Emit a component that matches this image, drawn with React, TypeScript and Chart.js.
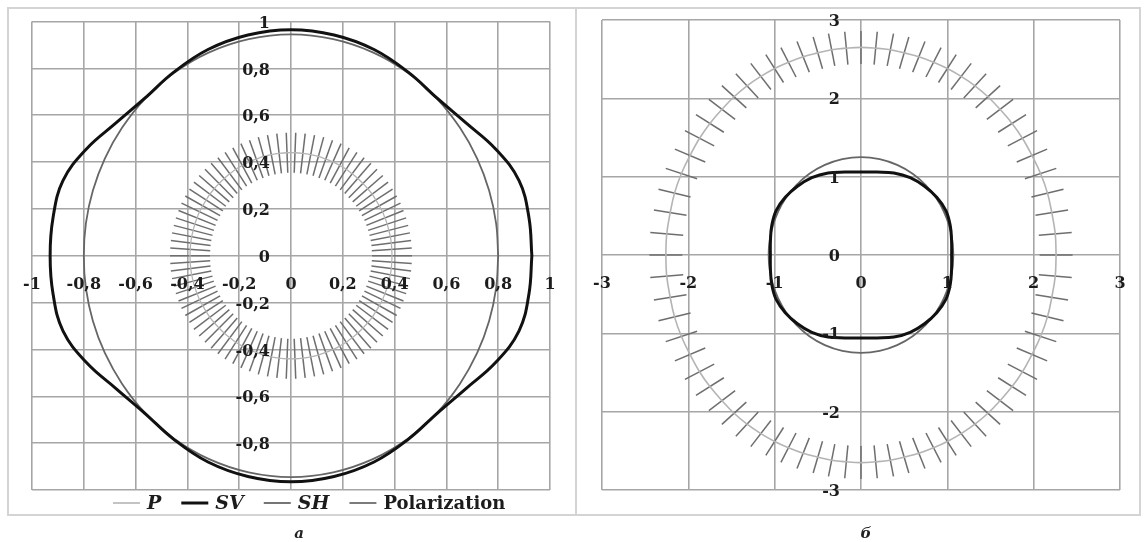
import React, { useEffect, useRef } from "react";
import { Chart, registerables } from "chart.js";
Chart.register(...registerables);

// ---------- Panel а (left) ----------
const L_X_TICKS = [-1, -0.8, -0.6, -0.4, -0.2, 0, 0.2, 0.4, 0.6, 0.8, 1];
const L_X_LABELS = ["-1", "-0,8", "-0,6", "-0,4", "-0,2", "0", "0,2", "0,4", "0,6", "0,8", "1"];
const L_Y_TICKS = [1, 0.8, 0.6, 0.4, 0.2, 0, -0.2, -0.4, -0.6, -0.8];
const L_Y_LABELS = ["1", "0,8", "0,6", "0,4", "0,2", "0", "-0,2", "-0,4", "-0,6", "-0,8"];

// polar angles (deg) of the curve samples
const CURVE_ANGLES = [0, 10, 20, 30, 40, 50, 60, 70, 80, 90, 100, 110, 120, 130, 140, 150, 160, 170,
  180, 190, 200, 210, 220, 230, 240, 250, 260, 270, 280, 290, 300, 310, 320, 330, 340, 350];

const L_SV_R = [0.930, 0.933, 0.937, 0.912, 0.882, 0.878, 0.905, 0.937, 0.957, 0.965,
  0.957, 0.937, 0.905, 0.878, 0.882, 0.912, 0.937, 0.933,
  0.930, 0.933, 0.937, 0.912, 0.882, 0.878, 0.905, 0.937, 0.957, 0.965,
  0.957, 0.937, 0.905, 0.878, 0.882, 0.912, 0.937, 0.933];

const L_SH_R = [0.800, 0.804, 0.814, 0.830, 0.851, 0.876, 0.902, 0.924, 0.939, 0.945,
  0.939, 0.924, 0.902, 0.876, 0.851, 0.830, 0.814, 0.804,
  0.800, 0.804, 0.814, 0.830, 0.851, 0.876, 0.902, 0.924, 0.939, 0.945,
  0.939, 0.924, 0.902, 0.876, 0.851, 0.830, 0.814, 0.804];

// P curve samples = polarization tick positions (polar angle deg, radius)
const L_P_ANGLES = [0, 4, 8, 12, 16, 20, 24, 28, 32, 36, 40, 44, 48, 52, 56, 60, 64, 68, 72, 76, 80, 84, 88,
  92, 96, 100, 104, 108, 112, 116, 120, 124, 128, 132, 136, 140, 144, 148, 152, 156, 160, 164, 168, 172, 176,
  180, 184, 188, 192, 196, 200, 204, 208, 212, 216, 220, 224, 228, 232, 236, 240, 244, 248, 252, 256, 260, 264, 268,
  272, 276, 280, 284, 288, 292, 296, 300, 304, 308, 312, 316, 320, 324, 328, 332, 336, 340, 344, 348, 352, 356];
const L_P_R = [0.390, 0.390, 0.391, 0.392, 0.393, 0.395, 0.397, 0.400, 0.402, 0.405, 0.409, 0.412, 0.415, 0.419, 0.422, 0.426, 0.429, 0.432, 0.434, 0.437, 0.438, 0.439, 0.440,
  0.440, 0.439, 0.438, 0.437, 0.434, 0.432, 0.429, 0.426, 0.422, 0.419, 0.415, 0.412, 0.409, 0.405, 0.402, 0.400, 0.397, 0.395, 0.393, 0.392, 0.391, 0.390,
  0.390, 0.390, 0.391, 0.392, 0.393, 0.395, 0.397, 0.400, 0.402, 0.405, 0.409, 0.412, 0.415, 0.419, 0.422, 0.426, 0.429, 0.432, 0.434, 0.437, 0.438, 0.439, 0.440,
  0.440, 0.439, 0.438, 0.437, 0.434, 0.432, 0.429, 0.426, 0.422, 0.419, 0.415, 0.412, 0.409, 0.405, 0.402, 0.400, 0.397, 0.395, 0.393, 0.392, 0.391, 0.390];
// polarization direction (deg) at each tick: radial
const L_POL_DIR = L_P_ANGLES;

// ---------- Panel б (right) ----------
const R_X_TICKS = [-3, -2, -1, 0, 1, 2, 3];
const R_X_LABELS = ["-3", "-2", "-1", "0", "1", "2", "3"];
const R_Y_TICKS = [3, 2, 1, 0, -1, -2, -3];
const R_Y_LABELS = ["3", "2", "1", "0", "-1", "-2", "-3"];

const R_SV_R = [1.050, 1.065, 1.100, 1.135, 1.145, 1.145, 1.140, 1.115, 1.075, 1.060,
  1.075, 1.115, 1.140, 1.145, 1.145, 1.135, 1.100, 1.065,
  1.050, 1.065, 1.100, 1.135, 1.145, 1.145, 1.140, 1.115, 1.075, 1.060,
  1.075, 1.115, 1.140, 1.145, 1.145, 1.135, 1.100, 1.065];

const R_SH_R = [1.070, 1.074, 1.087, 1.108, 1.135, 1.165, 1.197, 1.224, 1.243, 1.250,
  1.243, 1.224, 1.197, 1.165, 1.135, 1.108, 1.087, 1.074,
  1.070, 1.074, 1.087, 1.108, 1.135, 1.165, 1.197, 1.224, 1.243, 1.250,
  1.243, 1.224, 1.197, 1.165, 1.135, 1.108, 1.087, 1.074];

const R_P_X = [2.26, 2.25, 2.21, 2.16, 2.08, 1.98, 1.87, 1.75, 1.61, 1.47, 1.32, 1.16, 1.00, 0.84, 0.67, 0.50, 0.34, 0.17,
  0, -0.17, -0.34, -0.50, -0.67, -0.84, -1.00, -1.16, -1.32, -1.47, -1.61, -1.75, -1.87, -1.98, -2.08, -2.16, -2.21, -2.25,
  -2.26, -2.25, -2.21, -2.16, -2.08, -1.98, -1.87, -1.75, -1.61, -1.47, -1.32, -1.16, -1.00, -0.84, -0.67, -0.50, -0.34, -0.17,
  0, 0.17, 0.34, 0.50, 0.67, 0.84, 1.00, 1.16, 1.32, 1.47, 1.61, 1.75, 1.87, 1.98, 2.08, 2.16, 2.21, 2.25];
const R_P_Y = [0, 0.27, 0.54, 0.79, 1.04, 1.27, 1.49, 1.68, 1.86, 2.02, 2.16, 2.28, 2.38, 2.46, 2.53, 2.58, 2.62, 2.64,
  2.65, 2.64, 2.62, 2.58, 2.53, 2.46, 2.38, 2.28, 2.16, 2.02, 1.86, 1.68, 1.49, 1.27, 1.04, 0.79, 0.54, 0.27,
  0, -0.27, -0.54, -0.79, -1.04, -1.27, -1.49, -1.68, -1.86, -2.02, -2.16, -2.28, -2.38, -2.46, -2.53, -2.58, -2.62, -2.64,
  -2.65, -2.64, -2.62, -2.58, -2.53, -2.46, -2.38, -2.28, -2.16, -2.02, -1.86, -1.68, -1.49, -1.27, -1.04, -0.79, -0.54, -0.27];
// polarization direction (deg) at each tick
const R_POL_DIR = [0, 5, 10, 15, 20, 25, 30, 35, 40, 45, 50, 55, 60, 65, 70, 75, 80, 85,
  90, 95, 100, 105, 110, 115, 120, 125, 130, 135, 140, 145, 150, 155, 160, 165, 170, 175,
  180, 185, 190, 195, 200, 205, 210, 215, 220, 225, 230, 235, 240, 245, 250, 255, 260, 265,
  270, 275, 280, 285, 290, 295, 300, 305, 310, 315, 320, 325, 330, 335, 340, 345, 350, 355];

const SERIES = ["P", "SV", "SH", "Polarization"];
const SERIES_ITALIC = [true, true, true, false];

// ---------- helpers ----------
type Pt = { x: number; y: number };
function polar(angles: number[], radii: number[]): Pt[] {
  return angles.map((a, i) => ({
    x: radii[i] * Math.cos((a * Math.PI) / 180),
    y: radii[i] * Math.sin((a * Math.PI) / 180),
  }));
}
function xy(xs: number[], ys: number[]): Pt[] {
  return xs.map((x, i) => ({ x, y: ys[i] }));
}
function closed(p: Pt[]): Pt[] {
  return [...p, { ...p[0] }];
}

const C_P = "#b4b4b4";
const C_SV = "#111111";
const C_SH = "#666666";
const C_POL = "#6e6e6e";
const TICK_FONT = "bold 16px 'DejaVu Serif'";

function lineDs(label: string, data: Pt[], color: string, width: number, order: number) {
  return {
    label,
    data,
    showLine: true,
    borderColor: color,
    backgroundColor: color,
    borderWidth: width,
    pointRadius: 0,
    tension: 0.4,
    fill: false,
    order,
  };
}

function polDs(data: Pt[], dirs: number[], half: number) {
  return {
    label: "Polarization",
    data,
    showLine: false,
    pointStyle: "line",
    pointRadius: half,
    pointBorderWidth: 1.5,
    pointBorderColor: C_POL,
    pointBackgroundColor: C_POL,
    borderColor: C_POL,
    borderWidth: 1.5,
    order: 3,
    pointRotation: (ctx: any) => {
      const ch = ctx.chart;
      const sx = ch.scales.x;
      const sy = ch.scales.y;
      if (!sx || !sy) return 0;
      const a = (dirs[ctx.dataIndex] * Math.PI) / 180;
      const dx = sx.getPixelForValue(Math.cos(a)) - sx.getPixelForValue(0);
      const dy = sy.getPixelForValue(Math.sin(a)) - sy.getPixelForValue(0);
      return (Math.atan2(dy, dx) * 180) / Math.PI;
    },
  };
}

function makeLabelsPlugin(xt: number[], xl: string[], yt: number[], yl: string[], legend: boolean) {
  return {
    id: "customLabels",
    afterDraw(chart: any) {
      const ctx = chart.ctx;
      const sx = chart.scales.x;
      const sy = chart.scales.y;
      ctx.save();
      ctx.fillStyle = "#1c1c1c";
      ctx.font = TICK_FONT;
      ctx.textBaseline = "middle";
      ctx.textAlign = "center";
      const y0 = sy.getPixelForValue(0);
      xt.forEach((v, i) => ctx.fillText(xl[i], sx.getPixelForValue(v), y0 + 29));
      ctx.textAlign = "right";
      const x0 = sx.getPixelForValue(0);
      yt.forEach((v, i) => ctx.fillText(yl[i], x0 - 21, sy.getPixelForValue(v) + 2));
      if (legend) {
        const ly = 503;
        let x = 113;
        chart.data.datasets.forEach((ds: any) => {
          const col = ds.borderColor;
          const w = ds.label === "SV" ? 3 : ds.label === "P" ? 1.6 : 1.8;
          ctx.strokeStyle = col;
          ctx.lineWidth = w;
          ctx.beginPath();
          ctx.moveTo(x, ly);
          ctx.lineTo(x + 27, ly);
          ctx.stroke();
          x += 27 + 7;
          ctx.font = SERIES_ITALIC[SERIES.indexOf(ds.label)]
            ? "italic bold 19px 'DejaVu Serif'"
            : "bold 18px 'DejaVu Serif'";
          ctx.textAlign = "left";
          ctx.fillStyle = "#1c1c1c";
          ctx.fillText(ds.label, x, ly + 1);
          x += ctx.measureText(ds.label).width + 20;
        });
      }
      ctx.restore();
    },
  };
}

function Panel(props: {
  width: number;
  left: number;
  range: number;
  step: number;
  padding: any;
  datasets: any[];
  xt: number[];
  xl: string[];
  yt: number[];
  yl: string[];
  legend: boolean;
}) {
  const ref = useRef<HTMLCanvasElement | null>(null);
  useEffect(() => {
    if (!ref.current) return;
    const grid = { color: "#a6a6a6", lineWidth: 1.6, drawTicks: false };
    const chart = new Chart(ref.current, {
      type: "scatter",
      data: { datasets: props.datasets },
      options: {
        animation: false,
        responsive: false,
        devicePixelRatio: 1,
        events: [],
        layout: { padding: props.padding },
        plugins: { legend: { display: false }, tooltip: { enabled: false } },
        scales: {
          x: {
            type: "linear",
            min: -props.range,
            max: props.range,
            ticks: { display: false, stepSize: props.step },
            grid,
            border: { display: false },
          },
          y: {
            type: "linear",
            min: -props.range,
            max: props.range,
            ticks: { display: false, stepSize: props.step },
            grid,
            border: { display: false },
          },
        },
      } as any,
      plugins: [makeLabelsPlugin(props.xt, props.xl, props.yt, props.yl, props.legend)],
    });
    return () => chart.destroy();
  }, []);
  return (
    <canvas
      ref={ref}
      width={props.width}
      height={542}
      style={{ position: "absolute", left: props.left, top: 0, width: props.width, height: 542 }}
    />
  );
}

export default function App() {
  const lP = polar(L_P_ANGLES, L_P_R);
  const leftDatasets = [
    lineDs(SERIES[0], closed(lP), C_P, 1.3, 2),
    lineDs(SERIES[1], closed(polar(CURVE_ANGLES, L_SV_R)), C_SV, 3, 0),
    lineDs(SERIES[2], closed(polar(CURVE_ANGLES, L_SH_R)), C_SH, 1.8, 1),
    polDs(lP, L_POL_DIR, 20),
  ];
  const rP = xy(R_P_X, R_P_Y);
  const rightDatasets = [
    lineDs(SERIES[0], closed(rP), C_P, 1.6, 2),
    lineDs(SERIES[1], closed(polar(CURVE_ANGLES, R_SV_R)), C_SV, 3, 0),
    lineDs(SERIES[2], closed(polar(CURVE_ANGLES, R_SH_R)), C_SH, 1.8, 1),
    polDs(rP, R_POL_DIR, 16.5),
  ];
  const box: React.CSSProperties = {
    position: "absolute",
    top: 7,
    height: 509,
    border: "2px solid #d4d4d4",
    boxSizing: "border-box",
  };
  const cap: React.CSSProperties = {
    position: "absolute",
    top: 533,
    transform: "translate(-50%, -50%)",
    fontFamily: "'DejaVu Serif', serif",
    fontStyle: "italic",
    fontWeight: "bold",
    fontSize: 15,
    color: "#222",
  };
  return (
    <div style={{ position: "absolute", left: 0, top: 0, width: 1145, height: 542, background: "#fff", overflow: "hidden" }}>
      <div style={{ ...box, left: 7, width: 570 }} />
      <div style={{ ...box, left: 575, width: 566 }} />
      <Panel
        width={576}
        left={0}
        range={1}
        step={0.2}
        padding={{ left: 32, top: 20, right: 26, bottom: 52 }}
        datasets={leftDatasets}
        xt={L_X_TICKS}
        xl={L_X_LABELS}
        yt={L_Y_TICKS}
        yl={L_Y_LABELS}
        legend={true}
      />
      <Panel
        width={569}
        left={576}
        range={3}
        step={1}
        padding={{ left: 26, top: 20, right: 25, bottom: 52 }}
        datasets={rightDatasets}
        xt={R_X_TICKS}
        xl={R_X_LABELS}
        yt={R_Y_TICKS}
        yl={R_Y_LABELS}
        legend={false}
      />
      <div style={{ ...cap, left: 299 }}>а</div>
      <div style={{ ...cap, left: 866 }}>б</div>
    </div>
  );
}
